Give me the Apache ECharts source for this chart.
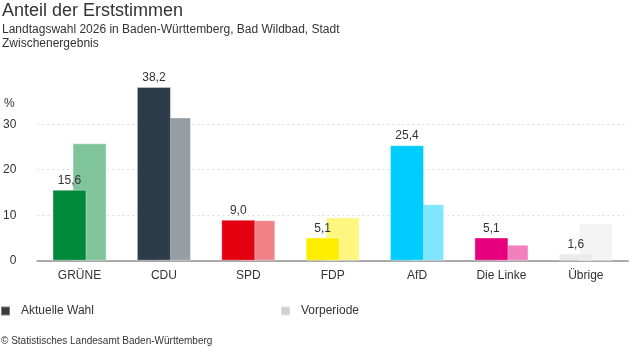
<!DOCTYPE html>
<html>
<head>
<meta charset="utf-8">
<script src="https://cdn.jsdelivr.net/npm/echarts@6/dist/echarts.min.js"></script>
<style>
  html, body { margin: 0; padding: 0; background: #fff; }
  #chart { width: 637px; height: 352px; }
</style>
</head>
<body>
<div id="chart"></div>
<script>
// Parteien und Werte (Prozent)
var parteien = ['GRÜNE', 'CDU', 'SPD', 'FDP', 'AfD', 'Die Linke', 'Übrige'];
var aktuell = [15.6, 38.2, 9.0, 5.1, 25.4, 5.1, 1.6];
var vorperiode = [25.8, 31.5, 8.9, 9.5, 12.4, 3.5, 8.2];
var yTicks = [0, 10, 20, 30];

// Farben je Partei: aktuell / Vorperiode
var farbeAktuell = ['#00893a', '#2d3c4b', '#e3000f', '#ffed00', '#00ccff', '#e6007e', '#ebebeb'];
var farbeVor = ['#80c49c', '#969da5', '#f18087', '#fff680', '#80e5ff', '#f280be', '#f4f4f4'];

var font = 'Arial, "Liberation Sans", sans-serif';
var textColor = '#333';

var chart = echarts.init(document.getElementById('chart'));

var option = {
    animation: false,
    textStyle: { fontFamily: font },
    title: {
        text: 'Anteil der Erststimmen',
        subtext: 'Landtagswahl 2026 in Baden-Württemberg, Bad Wildbad, Stadt\nZwischenergebnis',
        left: 0,
        top: 0,
        padding: [2, 2],
        itemGap: 3,
        textStyle: { fontSize: 18, fontWeight: 'normal', color: textColor, fontFamily: font },
        subtextStyle: { fontSize: 12, color: textColor, lineHeight: 14, fontFamily: font }
    },
    legend: [{
        data: ['Aktuelle Wahl'],
        left: 0, top: 305,
        padding: 0,
        icon: 'rect', itemWidth: 9, itemHeight: 9, itemGap: 10,
        textStyle: { fontSize: 12, color: textColor, padding: [0, 0, 0, 6] }
    }, {
        data: ['Vorperiode'],
        left: 280, top: 305,
        padding: 0,
        icon: 'rect', itemWidth: 9, itemHeight: 9,
        textStyle: { fontSize: 12, color: textColor, padding: [0, 0, 0, 6] }
    }],
    grid: { left: 33, top: 78.7, width: 595, bottom: 91.3 },
    xAxis: {
        type: 'category',
        data: parteien,
        axisLine: { lineStyle: { color: '#aaa', width: 2 } },
        axisTick: { show: false },
        axisLabel: { fontSize: 12, color: textColor, margin: 9 }
    },
    yAxis: {
        type: 'value',
        min: 0,
        max: 40,
        interval: 10,
        axisLine: { show: false },
        axisTick: { show: false },
        axisLabel: {
            fontSize: 12, color: textColor, margin: 21, showMaxLabel: false,
            formatter: function (v) { return yTicks.indexOf(v) >= 0 ? String(v) : ''; }
        },
        splitLine: {
            showMaxLine: false,
            lineStyle: { color: ['#ddd', '#ddd', '#ddd', '#ddd', 'transparent'], type: [2, 3], width: 1 }
        }
    },
    series: [{
        name: 'Aktuelle Wahl',
        type: 'bar',
        z: 3,
        barWidth: 34,
        barGap: '-41%',
        itemStyle: { color: '#3a3a3a', borderColor: 'rgba(255,255,255,0.35)', borderWidth: 1 },
        data: aktuell.map(function (v, i) {
            return { value: v, itemStyle: { color: farbeAktuell[i] } };
        }),
        label: {
            show: true,
            position: 'top',
            distance: 3,
            fontSize: 12,
            color: textColor,
            formatter: function (p) { return p.value.toFixed(1).replace('.', ','); }
        }
    }, {
        name: 'Vorperiode',
        type: 'bar',
        z: 2,
        barWidth: 34,
        itemStyle: { color: '#d0d0d0', borderColor: 'rgba(255,255,255,0.35)', borderWidth: 1 },
        data: vorperiode.map(function (v, i) {
            return { value: v, itemStyle: { color: farbeVor[i] } };
        })
    }],
    graphic: [{
        type: 'text',
        left: 4, top: 98,
        style: { text: '%', fontSize: 12, fill: textColor, fontFamily: font }
    }, {
        type: 'text',
        left: 1, top: 336,
        style: { text: '© Statistisches Landesamt Baden-Württemberg', fontSize: 10, fill: textColor, fontFamily: font }
    }]
};

chart.setOption(option);
</script>
</body>
</html>
